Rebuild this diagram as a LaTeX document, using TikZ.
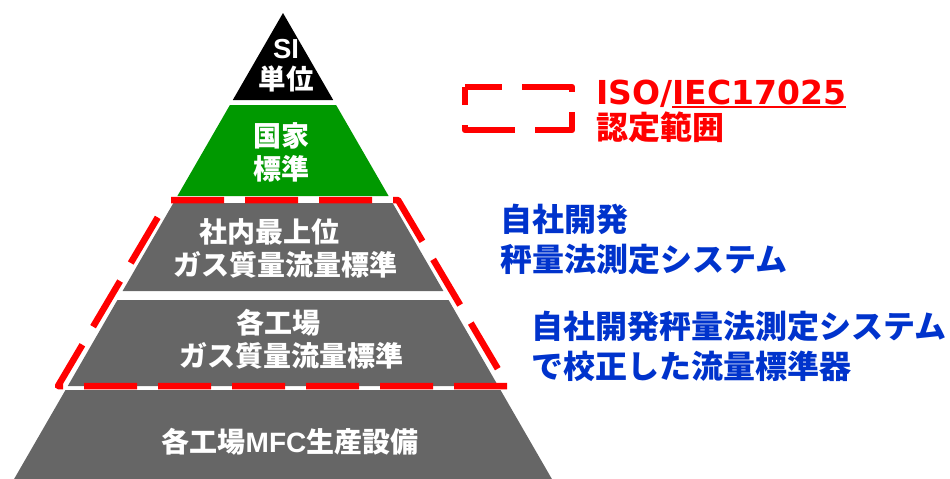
\documentclass[tikz,border=0pt]{standalone}
\usepackage{fontspec}
\setmainfont{Liberation Sans}
\newfontfamily\jp{Noto Sans CJK JP}
\newfontfamily\verd{DejaVu Sans}
\usetikzlibrary{positioning}
\definecolor{stdgray}{HTML}{666666}
\definecolor{stdgreen}{HTML}{009900}
\definecolor{noteblue}{HTML}{0033CC}
\definecolor{scopered}{HTML}{FF0000}
\newcommand{\isoline}[1]{\setbox0=\hbox{#1}\rlap{\rule[-4pt]{\wd0}{1.6pt}}\box0}
\tikzset{%
% Specifications for style of layers and labels:
layer/.style = {fill=stdgray},
scopeline/.style = {draw=scopered, line width=6.5pt, line join=round},
pyrtext/.style = {text=white, align=center, font=\jp\bfseries\fontsize{28}{33}\selectfont},
note/.style = {text=noteblue, align=left, anchor=north west, font=\jp\bfseries\fontsize{32}{40}\selectfont},
}

\begin{document}
\begin{tikzpicture}[
        x=1pt, y=-1pt,
        every node/.style={inner sep=0pt}
    ]
    \useasboundingbox (0,0) rectangle (950,479);
    % Pyramid layers (half width = 0.577 * (y - 13), centre x = 283)
    \fill [black] (283,13) -- (333.2,100) -- (232.8,100) -- cycle;
    \fill [stdgreen] (229.9,105) -- (336.1,105) -- (388.6,196) -- (177.4,196) -- cycle;
    \fill [layer] (173.4,203) -- (392.6,203) -- (443.4,291) -- (122.6,291) -- cycle;
    \fill [layer] (117.4,300) -- (448.6,300) -- (498.2,386) -- (67.8,386) -- cycle;
    \fill [layer] (65.5,390) -- (500.5,390) -- (551.9,479) -- (14.1,479) -- cycle;

    % Labels inside the pyramid
    \node (si) [pyrtext, font=\bfseries\fontsize{27.5}{31}\selectfont] at (286,66) {SI\\{\jp 単位}};
    \node (national) [pyrtext] at (281,152.5) {国家\\標準};
    \node (inhouse) [pyrtext] at (269,248.5) {社内最上位\\\hspace*{32pt}ガス質量流量標準};
    \node (plant) [pyrtext] at (278.5,339.5) {各工場\\\hspace*{26pt}ガス質量流量標準};
    \node (mfc) [pyrtext] at (290,441.5) {各工場{\rmfamily MFC}生産設備};

    % Accredited range
    \draw [scopeline, dash pattern=on 53pt off 21pt, dash phase=71pt] (168,200) -- (398,200) -- (508,386) -- (58,386) -- cycle;
    \draw [scopeline, dash pattern=on 55pt off 20pt, dash phase=18pt] (465,87) -- (572,87) -- (572,130) -- (465,130) -- cycle;
    \node (iso) [text=scopered, anchor=base west, font=\verd\bfseries\fontsize{33}{36}\selectfont] at (596,104) {ISO/\isoline{IEC17025}};
    \node (scope) [below=3pt of iso.south west, anchor=north west, text=scopered, font=\jp\bfseries\fontsize{32}{36}\selectfont] {認定範囲};

    % Notes on the right
    \node (sysA) [note] at (500,204) {自社開発\\秤量法測定システム};
    \node (sysB) [note] at (531,311) {自社開発秤量法測定システム\\で校正した流量標準器};
\end{tikzpicture}
\end{document}
